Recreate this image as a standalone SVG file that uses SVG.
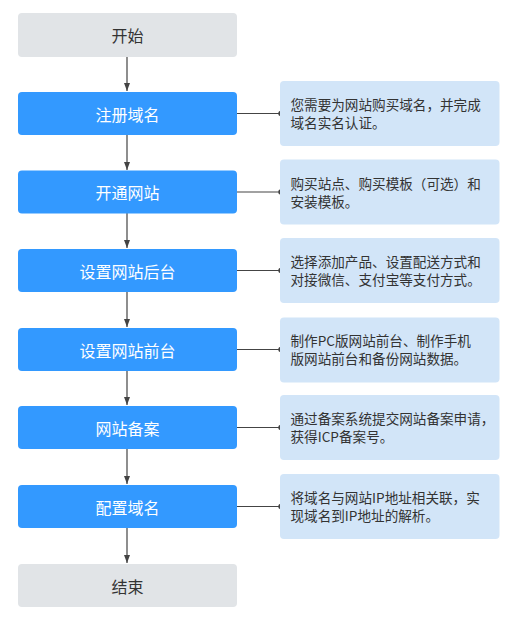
<svg xmlns="http://www.w3.org/2000/svg" width="522" height="629" viewBox="0 0 522 629">
<style>
.gray{fill:#e1e4e7}
.blue{fill:#3399ff}
.note{fill:#d2e5f8}
.lbl{font-family:"Noto Sans CJK SC","Noto Sans",sans-serif;font-size:16px;text-anchor:middle;dominant-baseline:central}
.dk{fill:#333333}
.wt{fill:#ffffff}
.nt{font-family:"Noto Sans CJK SC","Noto Sans",sans-serif;font-size:13.6px;fill:#333333}
.ln{stroke:#444444;stroke-width:1.2;fill:none}
</style>
<defs>
<marker id="ah" viewBox="0 0 8 10" refX="8" refY="5" markerWidth="8" markerHeight="10" markerUnits="userSpaceOnUse" orient="auto">
<path d="M0,2 L8,5 L0,8 z" fill="#444444"/>
</marker>
</defs>
<g id="connectors">
<line class="ln" x1="127" y1="57" x2="127" y2="91" marker-end="url(#ah)"/>
<line class="ln" x1="127" y1="135" x2="127" y2="170" marker-end="url(#ah)"/>
<line class="ln" x1="127" y1="213" x2="127" y2="248" marker-end="url(#ah)"/>
<line class="ln" x1="127" y1="292" x2="127" y2="327" marker-end="url(#ah)"/>
<line class="ln" x1="127" y1="371" x2="127" y2="405" marker-end="url(#ah)"/>
<line class="ln" x1="127" y1="449" x2="127" y2="484" marker-end="url(#ah)"/>
<line class="ln" x1="127" y1="528" x2="127" y2="563" marker-end="url(#ah)"/>
<line class="ln" x1="237" y1="113.5" x2="281" y2="113.5"/><circle cx="281" cy="113.5" r="2.7" fill="#444444"/>
<line class="ln" x1="237" y1="192" x2="281" y2="192"/><circle cx="281" cy="192" r="2.7" fill="#444444"/>
<line class="ln" x1="237" y1="270.5" x2="281" y2="270.5"/><circle cx="281" cy="270.5" r="2.7" fill="#444444"/>
<line class="ln" x1="237" y1="349.5" x2="281" y2="349.5"/><circle cx="281" cy="349.5" r="2.7" fill="#444444"/>
<line class="ln" x1="237" y1="427.5" x2="281" y2="427.5"/><circle cx="281" cy="427.5" r="2.7" fill="#444444"/>
<line class="ln" x1="237" y1="506.5" x2="281" y2="506.5"/><circle cx="281" cy="506.5" r="2.7" fill="#444444"/>
</g>
<g id="start"><rect class="gray" x="18" y="13" width="219" height="44" rx="4"/><text class="lbl dk" x="127.5" y="35">开始</text></g>
<g id="step1"><rect class="blue" x="18" y="92" width="219" height="43" rx="4"/><text class="lbl wt" x="127.5" y="113.5">注册域名</text></g>
<g id="step2"><rect class="blue" x="18" y="170.5" width="219" height="43" rx="4"/><text class="lbl wt" x="127.5" y="192">开通网站</text></g>
<g id="step3"><rect class="blue" x="18" y="249" width="219" height="43" rx="4"/><text class="lbl wt" x="127.5" y="270.5">设置网站后台</text></g>
<g id="step4"><rect class="blue" x="18" y="328" width="219" height="43" rx="4"/><text class="lbl wt" x="127.5" y="349.5">设置网站前台</text></g>
<g id="step5"><rect class="blue" x="18" y="406" width="219" height="43" rx="4"/><text class="lbl wt" x="127.5" y="427.5">网站备案</text></g>
<g id="step6"><rect class="blue" x="18" y="485" width="219" height="43" rx="4"/><text class="lbl wt" x="127.5" y="506.5">配置域名</text></g>
<g id="end"><rect class="gray" x="18" y="564" width="219" height="43" rx="4"/><text class="lbl dk" x="127.5" y="585.5">结束</text></g>
<g id="note1"><rect class="note" x="280" y="81" width="219.5" height="65" rx="4"/><text class="nt" x="290.5" y="110">您需要为网站购买域名，并完成</text><text class="nt" x="290.5" y="128">域名实名认证。</text></g>
<g id="note2"><rect class="note" x="280" y="159.5" width="219.5" height="65" rx="4"/><text class="nt" x="290.5" y="188.5">购买站点、购买模板（可选）和</text><text class="nt" x="290.5" y="206.5">安装模板。</text></g>
<g id="note3"><rect class="note" x="280" y="238" width="219.5" height="65" rx="4"/><text class="nt" x="290.5" y="267">选择添加产品、设置配送方式和</text><text class="nt" x="290.5" y="285">对接微信、支付宝等支付方式。</text></g>
<g id="note4"><rect class="note" x="280" y="317.5" width="219.5" height="65" rx="4"/><text class="nt" x="290.5" y="346">制作PC版网站前台、制作手机</text><text class="nt" x="290.5" y="364">版网站前台和备份网站数据。</text></g>
<g id="note5"><rect class="note" x="280" y="395" width="219.5" height="65" rx="4"/><text class="nt" x="290.5" y="424">通过备案系统提交网站备案申请，</text><text class="nt" x="290.5" y="442">获得ICP备案号。</text></g>
<g id="note6"><rect class="note" x="280" y="474" width="219.5" height="65" rx="4"/><text class="nt" x="290.5" y="503">将域名与网站IP地址相关联，实</text><text class="nt" x="290.5" y="521">现域名到IP地址的解析。</text></g>
</svg>
